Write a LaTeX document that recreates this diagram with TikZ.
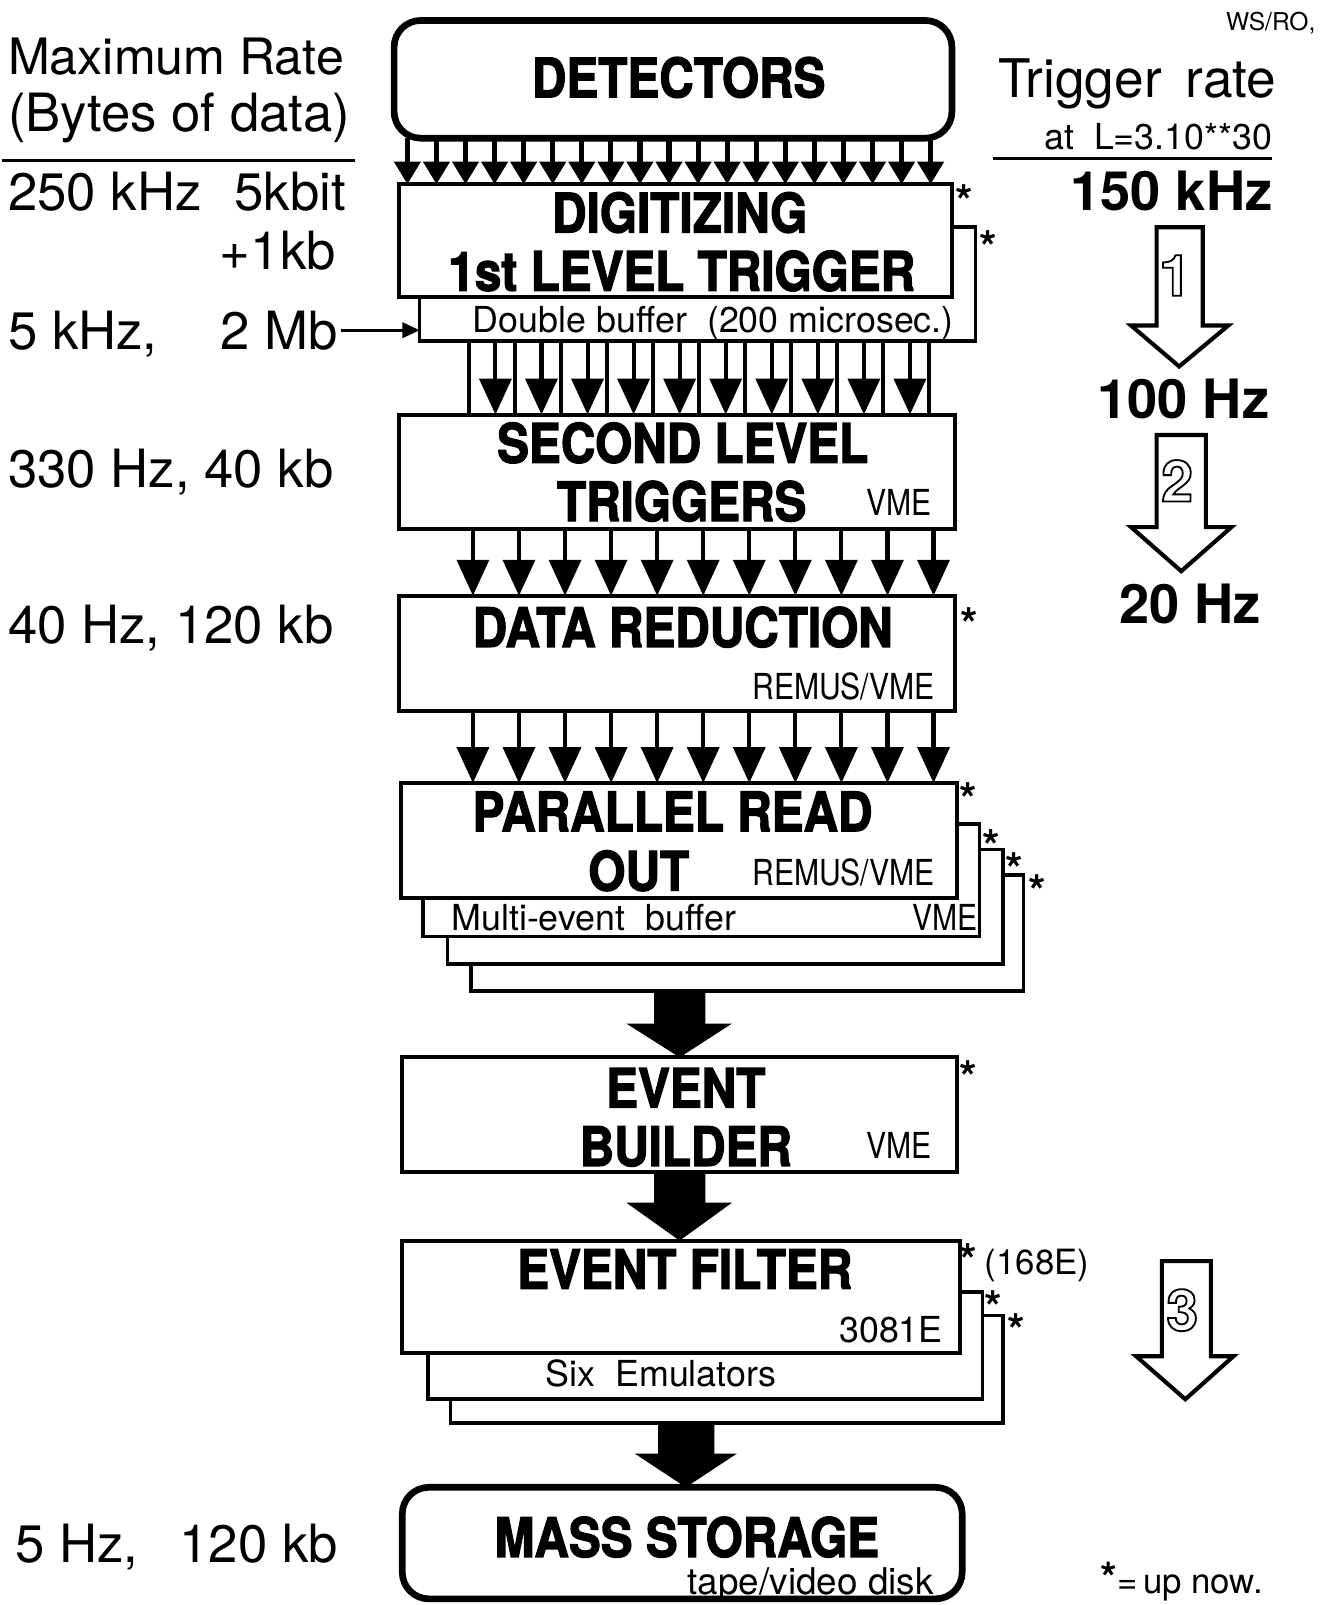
\documentclass[tikz,border=0pt]{standalone}
\usepackage{fontspec}
\setmainfont{TeX Gyre Heros}
\usepackage{graphicx}
\usetikzlibrary{calc,arrows.meta}

\newcommand\Ftitle{\fontsize{53}{56}\selectfont\bfseries}
\newcommand\Fleft{\fontsize{51.5}{54}\selectfont}
\newcommand\Fmed{\fontsize{35}{38}\selectfont}
\newcommand\Fsys{\fontsize{35}{38}\selectfont}
\newcommand\Frate{\fontsize{53}{56}\selectfont\bfseries}
\newcommand\Heavy[1]{\special{pdf:literal direct q 2 Tr 1.3 w}#1\special{pdf:literal direct Q}}
\newcommand\Tt[1]{\scalebox{0.88}[1]{\Heavy{#1}}}
\newcommand\Sy[1]{\scalebox{0.84}[1]{#1}}
\newcommand\Outl[1]{\special{pdf:literal direct q 1 Tr 1.8 w}#1\special{pdf:literal direct Q}}

\tikzset{
  box/.style={draw, line width=4pt, fill=white, rectangle, inner sep=0pt, outer sep=0pt, anchor=north west},
  rbox/.style={draw, line width=6.5pt, fill=white, rectangle, rounded corners=26pt, inner sep=0pt, outer sep=0pt, anchor=north west},
  txt/.style={inner sep=0pt, outer sep=0pt, anchor=base},
  txtw/.style={inner sep=0pt, outer sep=0pt, anchor=base west},
  txte/.style={inner sep=0pt, outer sep=0pt, anchor=base east},
  star/.style={inner sep=0pt, outer sep=0pt, anchor=base, font=\fontsize{44}{46}\selectfont\bfseries},
  smallarrow/.style={line width=5pt, -{Triangle[width=25pt,length=22pt]}},
  midarrow/.style={line width=4pt, -{Triangle[width=31pt,length=35pt]}},
  busline/.style={line width=4pt},
  hollow/.style={draw, line width=4pt, fill=white, line join=miter},
  rule/.style={line width=3.5pt},
}

\begin{document}
\begin{tikzpicture}[x=1pt,y=-1pt]
\useasboundingbox (0,0) rectangle (1297,1568);

% ---------- boxes ----------
\node[rbox, minimum width=545pt, minimum height=115pt] (det) at (385,20) {};
\node[box, line width=3.5pt, minimum width=543pt, minimum height=111pt] (db) at (410,222) {};
\node[box, minimum width=540pt, minimum height=110pt] (dig) at (390,180) {};
\node[box, minimum width=543pt, minimum height=112pt] (slt) at (390,405) {};
\node[box, minimum width=543pt, minimum height=113pt] (dr) at (390,582) {};
\node[box, line width=3.5pt, minimum width=540pt, minimum height=113pt] (pro4) at (460,855) {};
\node[box, line width=3.5pt, minimum width=543pt, minimum height=112pt] (pro3) at (437,830) {};
\node[box, line width=3.5pt, minimum width=544pt, minimum height=110pt] (pro2) at (413,805) {};
\node[box, minimum width=543pt, minimum height=112pt] (pro1) at (392,765) {};
\node[box, minimum width=542pt, minimum height=112pt] (eb) at (393,1033) {};
\node[box, line width=3.5pt, minimum width=540pt, minimum height=105pt] (ef3) at (440,1285) {};
\node[box, line width=3.5pt, minimum width=542pt, minimum height=105pt] (ef2) at (418,1262) {};
\node[box, minimum width=545pt, minimum height=110pt] (ef1) at (393,1212) {};
\node[rbox, minimum width=547pt, minimum height=109pt] (ms) at (393,1453) {};

% ---------- box texts ----------
\node[txt] (tdet) at (663,95) {\Ftitle\Tt{DETECTORS}};
\node[txt] (tdig1) at (664,227) {\Ftitle\Tt{DIGITIZING}};
\node[txt] (tdig2) at (666,284) {\Ftitle\Tt{1st LEVEL TRIGGER}};
\node[txtw] (tdb) at (462,325) {\Fmed Double buffer\ \ (200 microsec.)};
\node[txt] (tslt1) at (667,452) {\Ftitle\Tt{SECOND LEVEL}};
\node[txt] (tslt2) at (666,509) {\Ftitle\Tt{TRIGGERS}};
\node[txte] (tslt3) at (910,504) {\Fsys\Sy{VME}};
\node[txt] (tdr1) at (667,632) {\Ftitle\Tt{DATA REDUCTION}};
\node[txte] (tdr2) at (913,683) {\Fsys\Sy{REMUS/VME}};
\node[txt] (tpro1) at (657,812) {\Ftitle\Tt{PARALLEL READ}};
\node[txt] (tpro2) at (624,870) {\Ftitle\Tt{OUT}};
\node[txte] (tpro3) at (913,865) {\Fsys\Sy{REMUS/VME}};
\node[txtw] (tpro4) at (441,909) {\Fmed Multi-event\ \ buffer};
\node[txte] (tpro5) at (955,909) {\Fsys\Sy{VME}};
\node[txt] (teb1) at (670,1082) {\Ftitle\Tt{EVENT}};
\node[txt] (teb2) at (670,1139) {\Ftitle\Tt{BUILDER}};
\node[txte] (teb3) at (910,1132) {\Fsys\Sy{VME}};
\node[txt] (tef1) at (669,1259) {\Ftitle\Tt{EVENT FILTER}};
\node[txte] (tef2) at (921,1312) {\Fmed 3081E};
\node[txtw] (tef3) at (533,1355) {\Fmed Six\ \ Emulators};
\node[txt] (tms1) at (671,1521) {\Ftitle\Tt{MASS STORAGE}};
\node[txte] (tms2) at (912,1558) {\fontsize{36}{38}\selectfont tape/video disk};

% ---------- stars ----------
\node[star] (s1) at (942,212) {*};
\node[star] (s2) at (965,257) {*};
\node[star] (s3) at (947,626) {*};
\node[star] (s4) at (946,797) {*};
\node[star] (s5) at (968,843) {*};
\node[star] (s6) at (991,865) {*};
\node[star] (s7) at (1013,887) {*};
\node[star] (s8) at (946,1068) {*};
\node[star] (s9) at (946,1247) {*};
\node[star] (s10) at (970,1293) {*};
\node[star] (s11) at (993,1315) {*};
\node[txtw] (t168) at (962,1245) {\fontsize{34}{36}\selectfont (168E)};

% ---------- arrows detectors -> digitizing ----------
\foreach \i in {0,...,18}{
  \pgfmathsetmacro\xx{398+\i*28.4}
  \draw[smallarrow] (\xx,0 |- det.south) -- (\xx,0 |- dig.north);
}

% ---------- double buffer -> second level ----------
\foreach \i in {0,...,10}{
  \pgfmathsetmacro\xx{458+\i*45}
  \draw[busline] (\xx,0 |- db.south) -- (\xx,0 |- slt.north);
}
\foreach \i in {0,...,9}{
  \pgfmathsetmacro\xx{484+\i*45}
  \draw[midarrow] (\xx,0 |- db.south) -- (\xx,0 |- slt.north);
}

% ---------- second level -> data reduction ----------
\foreach \i in {0,...,10}{
  \pgfmathsetmacro\xx{462+\i*45}
  \draw[midarrow] (\xx,0 |- slt.south) -- (\xx,0 |- dr.north);
}
% ---------- data reduction -> parallel read out ----------
\foreach \i in {0,...,10}{
  \pgfmathsetmacro\xx{462+\i*45}
  \draw[midarrow] (\xx,0 |- dr.south) -- (\xx,0 |- pro1.north);
}

% ---------- big arrows ----------
\fill (639,0 |- pro4.south) -- (689,0 |- pro4.south) -- (689,1000) -- (715,1000)
  -- (664,0 |- eb.north) -- (612,1000) -- (639,1000) -- cycle;
\fill (639,0 |- eb.south) -- (689,0 |- eb.south) -- (689,1175) -- (715,1175)
  -- (664,0 |- ef1.north) -- (612,1175) -- (639,1175) -- cycle;
\fill (643,0 |- ef3.south) -- (698,0 |- ef3.south) -- (698,1420) -- (720,1420)
  -- (670,0 |- ms.north) -- (620,1420) -- (643,1420) -- cycle;

% ---------- left column ----------
\node[txtw] (l1) at (8,73) {\fontsize{49}{52}\selectfont Maximum Rate};
\node[txtw] (l2) at (8,128) {\Fleft (Bytes of data)};
\draw[rule] (2,157) -- (347,157);
\node[txtw] (l3) at (8,206) {\Fleft 250 kHz};
\node[txte] (l4) at (338,206) {\Fleft 5kbit};
\node[txte] (l5) at (328,263) {\Fleft +1kb};
\node[txtw] (l6) at (8,341) {\Fleft 5 kHz,};
\node[txte] (mb) at (330,341) {\Fleft 2 Mb};
\draw[line width=3pt, -{Triangle[width=15pt,length=17pt]}] ([xshift=3pt]mb.east) -- (mb.east -| db.west);
\node[txtw] (l7) at (8,476) {\Fleft 330 Hz, 40 kb};
\node[txtw] (l8) at (8,629) {\Fleft 40 Hz, 120 kb};
\node[txtw] (l9) at (15,1526) {\Fleft 5 Hz,};
\node[txte] (l10) at (330,1526) {\Fleft 120 kb};

% ---------- right column ----------
\node[txte] (ws) at (1285,30) {\fontsize{24}{26}\selectfont WS/RO,};
\node[txtw] (r1) at (975,95) {\fontsize{52}{56}\selectfont Trigger\hspace{9pt} rate};
\node[txte] (r2) at (1243,146) {\fontsize{35}{38}\selectfont at\ \ L=3.10**30};
\draw[rule] (970,155) -- (1243,155);
\node[txte] (r3) at (1243,206) {\Frate 150 kHz};
\draw[hollow] (1130,222) -- (1175,222) -- (1175,318) -- (1200,318) -- (1152,358)
  -- (1105,318) -- (1130,318) -- cycle;
\node[txt] (n1) at (1148,289) {\fontsize{56}{58}\selectfont\bfseries\Outl{1}};
\node[txte] (r4) at (1240,409) {\Frate 100 Hz};
\draw[hollow] (1130,425) -- (1178,425) -- (1178,515) -- (1203,515) -- (1154,558)
  -- (1105,515) -- (1130,515) -- cycle;
\node[txt] (n2) at (1150,490) {\fontsize{56}{58}\selectfont\bfseries\Outl{2}};
\node[txte] (r5) at (1232,609) {\Frate 20 Hz};
\draw[hollow] (1135,1232) -- (1183,1232) -- (1183,1325) -- (1205,1325) -- (1158,1367)
  -- (1110,1325) -- (1135,1325) -- cycle;
\node[txt] (n3) at (1155,1300) {\fontsize{56}{58}\selectfont\bfseries\Outl{3}};
\node[txtw] (note) at (1075,1557) {\fontsize{34}{36}\selectfont {\fontsize{42}{44}\selectfont\bfseries *}=\,up now.};
\end{tikzpicture}
\end{document}
